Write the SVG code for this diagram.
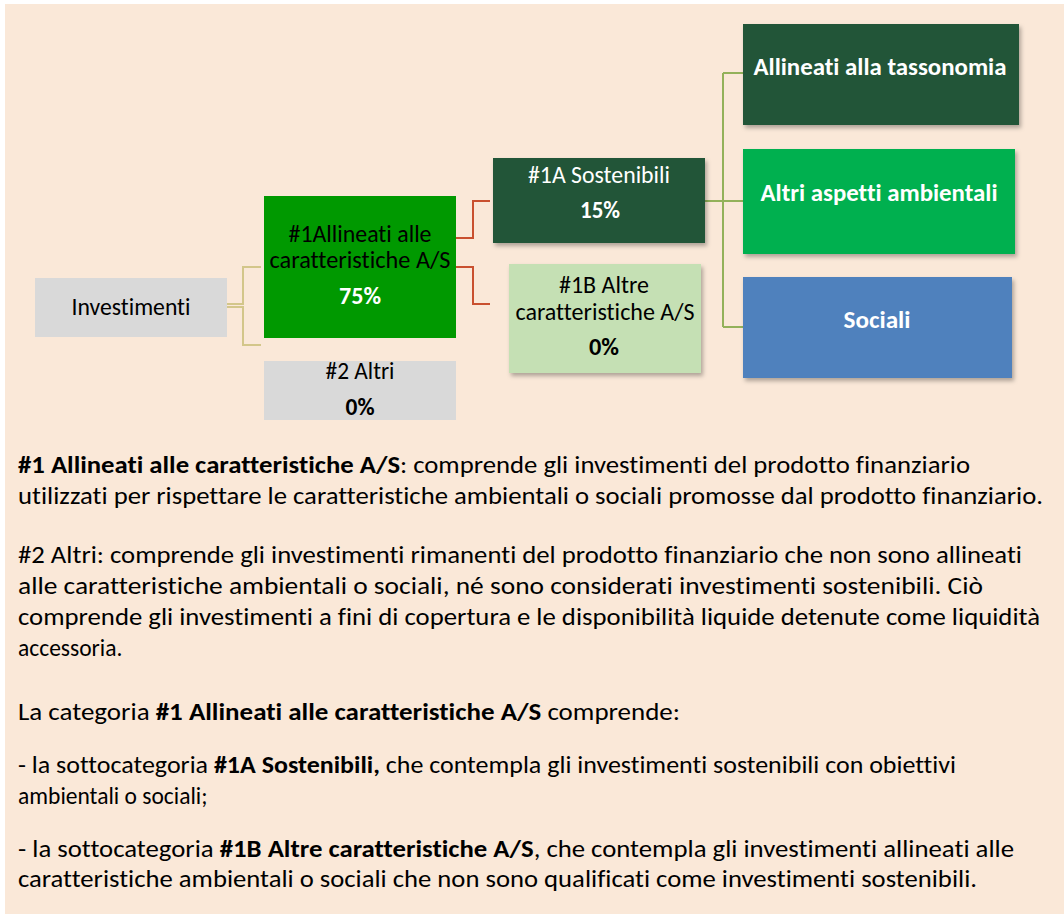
<svg xmlns="http://www.w3.org/2000/svg" width="1064" height="916" viewBox="0 0 1064 916">
<defs>
<filter id="sh" x="-10%" y="-10%" width="130%" height="140%">
<feDropShadow dx="2" dy="3" stdDeviation="2" flood-color="#000" flood-opacity="0.3"/>
</filter>
<style>
text{font-family:Carlito,Lato,"Liberation Sans",sans-serif;font-size:23.5px;fill:#000;font-variant-ligatures:none}
.b{font-weight:bold}
.w{fill:#fff}
.c{text-anchor:middle}
.body{font-size:23.5px}
.tan{fill:none;stroke:#D3C68A;stroke-width:2}
.red{fill:none;stroke:#C9502F;stroke-width:2}
.grn{fill:none;stroke:#93B15A;stroke-width:2}
</style>
</defs>
<rect x="0" y="0" width="1064" height="916" fill="#fff"/>
<rect x="5" y="4" width="1059" height="910" fill="#FAE8D8"/>
<g id="connectors">
<path class="tan" d="M227,304H243V267H261"/>
<path class="tan" d="M227,307H243V345H261"/>
<path class="red" d="M456,238H473V201H490"/>
<path class="red" d="M456,267H473V304H490"/>
<path class="grn" d="M705,201H723M723,73V327M723,73H743M723,201H743M723,327H743"/>
</g>
<g id="investimenti">
<rect x="35" y="278" width="192" height="59" fill="#D9D9D9"/>
<text class="c" x="131" y="315" textLength="119" lengthAdjust="spacingAndGlyphs">Investimenti</text>
</g>
<g id="n1">
<rect x="264" y="196" width="192" height="142" fill="#009900"/>
<text class="c" x="360" y="242" textLength="143" lengthAdjust="spacingAndGlyphs">#1Allineati alle</text>
<text class="c" x="360" y="268" textLength="181" lengthAdjust="spacingAndGlyphs">caratteristiche A/S</text>
<text class="c b w" x="360" y="304" textLength="42" lengthAdjust="spacingAndGlyphs">75%</text>
</g>
<g id="n2">
<rect x="264" y="361" width="192" height="59" fill="#D9D9D9"/>
<text class="c" x="360" y="379" textLength="69" lengthAdjust="spacingAndGlyphs">#2 Altri</text>
<text class="c b" x="360" y="415" textLength="29" lengthAdjust="spacingAndGlyphs">0%</text>
</g>
<g id="n1a">
<rect x="493" y="158" width="212" height="85" fill="#245438" filter="url(#sh)"/>
<text class="c w" x="599" y="183" textLength="142" lengthAdjust="spacingAndGlyphs">#1A Sostenibili</text>
<text class="c b w" x="600" y="218" textLength="40" lengthAdjust="spacingAndGlyphs">15%</text>
</g>
<g id="n1b">
<rect x="509" y="264" width="192" height="109" fill="#C5E0B4" filter="url(#sh)"/>
<text class="c" x="604" y="293" textLength="90" lengthAdjust="spacingAndGlyphs">#1B Altre</text>
<text class="c" x="605" y="320" textLength="179" lengthAdjust="spacingAndGlyphs">caratteristiche A/S</text>
<text class="c b" x="604" y="355" textLength="30" lengthAdjust="spacingAndGlyphs">0%</text>
</g>
<g id="tassonomia">
<rect x="743" y="24" width="276" height="101" fill="#245438" filter="url(#sh)"/>
<text class="c b w" x="880" y="75" textLength="253" lengthAdjust="spacingAndGlyphs">Allineati alla tassonomia</text>
</g>
<g id="ambientali">
<rect x="743" y="149" width="272" height="105" fill="#00B050" filter="url(#sh)"/>
<text class="c b w" x="879" y="201" textLength="237" lengthAdjust="spacingAndGlyphs">Altri aspetti ambientali</text>
</g>
<g id="sociali">
<rect x="743" y="277" width="269" height="101" fill="#4F81BD" filter="url(#sh)"/>
<text class="c b w" x="877" y="328" textLength="67" lengthAdjust="spacingAndGlyphs">Sociali</text>
</g>
<g id="testo">
<text class="body" x="18" y="473" textLength="952" lengthAdjust="spacingAndGlyphs"><tspan class="b">#1 Allineati alle caratteristiche A/S</tspan>: comprende gli investimenti del prodotto finanziario</text>
<text class="body" x="18" y="504" textLength="1025" lengthAdjust="spacingAndGlyphs">utilizzati per rispettare le caratteristiche ambientali o sociali promosse dal prodotto finanziario.</text>
<text class="body" x="18" y="563" textLength="1004" lengthAdjust="spacingAndGlyphs">#2 Altri: comprende gli investimenti rimanenti del prodotto finanziario che non sono allineati</text>
<text class="body" x="18" y="594" textLength="965" lengthAdjust="spacingAndGlyphs">alle caratteristiche ambientali o sociali, né sono considerati investimenti sostenibili. Ciò</text>
<text class="body" x="18" y="625" textLength="1022" lengthAdjust="spacingAndGlyphs">comprende gli investimenti a fini di copertura e le disponibilità liquide detenute come liquidità</text>
<text class="body" x="18" y="656">accessoria.</text>
<text class="body" x="18" y="720" textLength="662" lengthAdjust="spacingAndGlyphs">La categoria <tspan class="b">#1 Allineati alle caratteristiche A/S</tspan> comprende:</text>
<text class="body" x="18" y="773" textLength="938" lengthAdjust="spacingAndGlyphs">- la sottocategoria <tspan class="b">#1A Sostenibili,</tspan> che contempla gli investimenti sostenibili con obiettivi</text>
<text class="body" x="18" y="804">ambientali o sociali;</text>
<text class="body" x="18" y="857" textLength="996" lengthAdjust="spacingAndGlyphs">- la sottocategoria <tspan class="b">#1B Altre caratteristiche A/S</tspan>, che contempla gli investimenti allineati alle</text>
<text class="body" x="18" y="887" textLength="959" lengthAdjust="spacingAndGlyphs">caratteristiche ambientali o sociali che non sono qualificati come investimenti sostenibili.</text>
</g>
</svg>
